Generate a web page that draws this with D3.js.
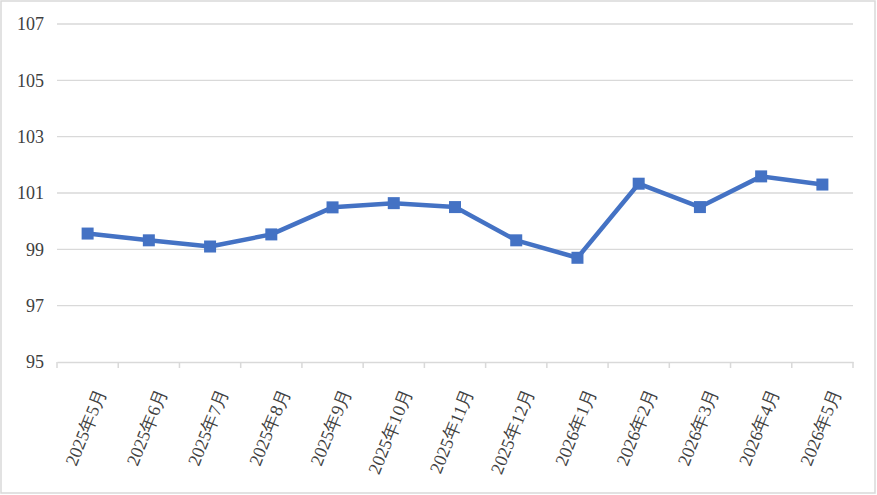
<!DOCTYPE html>
<html>
<head>
<meta charset="utf-8">
<script src="https://cdn.jsdelivr.net/npm/d3@7"></script>
<style>
  html, body { margin: 0; padding: 0; background: #fff; }
  svg { display: block; }
  text { fill: #404040; }
</style>
</head>
<body>
<div id="chart"></div>
<script>
const months = ['2025年5月', '2025年6月', '2025年7月', '2025年8月', '2025年9月', '2025年10月',
    '2025年11月', '2025年12月', '2026年1月', '2026年2月', '2026年3月', '2026年4月', '2026年5月'];
const values = [99.56, 99.32, 99.1, 99.53, 100.49, 100.64, 100.5, 99.32, 98.7, 101.33, 100.5, 101.59, 101.3];
const yTicks = [95, 97, 99, 101, 103, 105, 107];

const width = 877, height = 495;
const plotLeft = 57, plotRight = 853, plotTop = 24, plotBottom = 362;
const fontFamily = "'Liberation Serif', 'Times New Roman', 'DejaVu Serif', serif";

const svg = d3.select('#chart').append('svg')
    .attr('width', width)
    .attr('height', height)
    .attr('font-family', fontFamily);

// outer frame
svg.append('rect')
    .attr('x', 1).attr('y', 1)
    .attr('width', width - 3).attr('height', height - 3)
    .attr('fill', 'none')
    .attr('stroke', '#d9d9d9')
    .attr('stroke-width', 1.5);

const x = d3.scaleBand().domain(months).range([plotLeft, plotRight]);
const y = d3.scaleLinear().domain([95, 107]).range([plotBottom, plotTop]);

// gridlines
svg.append('g')
    .selectAll('line')
    .data(yTicks.filter(t => t !== 95))
    .join('line')
    .attr('x1', plotLeft).attr('x2', plotRight)
    .attr('y1', d => y(d)).attr('y2', d => y(d))
    .attr('stroke', '#d9d9d9')
    .attr('stroke-width', 1.3);

// y labels
svg.append('g')
    .selectAll('text')
    .data(yTicks)
    .join('text')
    .attr('x', 44)
    .attr('y', d => y(d))
    .attr('dy', '0.35em')
    .attr('text-anchor', 'end')
    .attr('font-family', fontFamily)
    .style('font-size', '18px')
    .text(d => d);

// x axis
const xAxis = svg.append('g')
    .attr('transform', `translate(0,${plotBottom})`)
    .call(d3.axisBottom(x).tickSizeInner(0).tickSizeOuter(0).tickFormat(''));
xAxis.select('.domain').attr('stroke', '#d9d9d9').attr('stroke-width', 1.5);
xAxis.selectAll('.tick').remove();

const edges = months.map(m => x(m)).concat([plotRight]);
svg.append('g')
    .selectAll('line')
    .data(edges)
    .join('line')
    .attr('x1', d => d).attr('x2', d => d)
    .attr('y1', plotBottom).attr('y2', plotBottom + 6)
    .attr('stroke', '#d9d9d9')
    .attr('stroke-width', 1.5);

svg.append('g')
    .selectAll('text')
    .data(months)
    .join('text')
    .attr('transform', d => `translate(${x(d) + x.bandwidth() / 2 + 19},${plotBottom + 30}) rotate(-68)`)
    .attr('text-anchor', 'end')
    .attr('font-family', fontFamily)
    .style('font-size', '18px')
    .text(d => d);

// line
const cx = (d, i) => x(months[i]) + x.bandwidth() / 2;
const line = d3.line()
    .x((d, i) => cx(d, i))
    .y(d => y(d));

svg.append('path')
    .datum(values)
    .attr('d', line)
    .attr('fill', 'none')
    .attr('stroke', '#4472c4')
    .attr('stroke-width', 4.5)
    .attr('stroke-linejoin', 'round');

const size = 12;
svg.append('g')
    .selectAll('rect')
    .data(values)
    .join('rect')
    .attr('x', (d, i) => cx(d, i) - size / 2)
    .attr('y', d => y(d) - size / 2)
    .attr('width', size)
    .attr('height', size)
    .attr('fill', '#4472c4');
</script>
</body>
</html>
